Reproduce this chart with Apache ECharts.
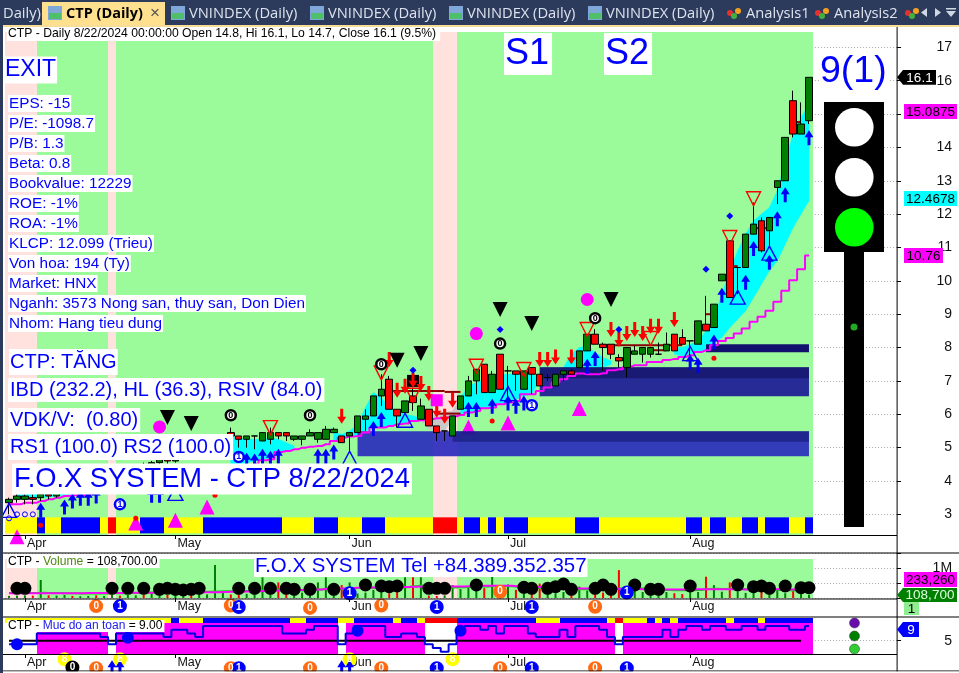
<!DOCTYPE html>
<html><head><meta charset="utf-8"><style>html,body{margin:0;padding:0;background:#fff}#c{width:959px;height:673px}</style>
<script src="https://cdn.jsdelivr.net/npm/echarts@6/dist/echarts.min.js"></script></head><body><div id="c"></div>
<script>
var monthTickIndex=[2,21,43,63,86];
var monthNames=['Apr','May','Jun','Jul','Aug'];
var opens=[3.35,3.45,3.45,3.5,3.5,3.6,3.55,3.7,3.85,3.8,3.95,4.05,4,4.1,4.25,4.2,4.35,4.45,4.4,4.55,4.65,4.6,4.75,4.85,4.8,4.95,5.05,5.15,5.45,5.35,5.25,5.35,5.2,5.25,5.45,5.45,5.25,5.25,5.35,5.25,5.25,5.45,5.35,5.35,5.45,5.85,5.95,6.55,7.05,6.15,6.05,6.55,5.85,6.15,5.65,5.5,5.35,6.15,6.55,7,7.5,6.65,7.8,7.3,7.3,6.75,7.4,7.2,7.1,6.85,7.2,7.3,7.4,7.9,8.4,8.1,8.1,7.7,7.4,7.8,7.8,7.8,7.8,7.9,8.4,8.3,8.2,8.1,8.7,8.6,10,11.2,10.4,10.4,11.4,11.8,11.5,12.8,13,15.4,14.4,14.8];
var closes=[3.45,3.55,3.55,3.45,3.6,3.55,3.7,3.85,3.8,3.95,4.05,4,4.1,4.25,4.2,4.35,4.45,4.4,4.55,4.65,4.6,4.75,4.85,4.8,4.95,5.05,5.15,5.3,5.35,5.25,5.35,5.35,5.45,5.45,5.35,5.35,5.35,5.35,5.45,5.45,5.55,5.55,5.15,5.45,5.95,5.95,6.55,6.75,6.15,5.95,6.4,6.35,6.25,5.65,5.45,5.5,5.95,6.55,7,7.35,6.65,7.2,6.75,7.3,7.2,7.3,7.2,6.85,7.1,7.2,7.3,7.2,7.9,8.4,8.1,8,7.8,7.6,8,7.9,8,8,7.8,8.1,7.9,8.1,8.2,8.8,8.5,9.3,10.2,9.5,10.4,11.4,11.7,10.9,11.9,13,14.3,14.4,14.7,16.1];
var lows=[3,3.35,3.3,3.3,3.4,3.45,3.5,3.65,3.7,3.75,3.85,3.9,3.95,4,4.1,4.15,4.25,4.3,4.35,4.45,4.5,4.55,4.65,4.7,4.75,4.85,4.9,5.05,5.1,5,5,4.95,5.2,5.1,5.25,5.2,5.2,5.07,5.35,5.15,5.25,5.45,5.15,4.85,5.45,5.5,5.95,6.25,6.15,5.6,6.05,6.1,5.85,5.65,5.2,5.2,5.35,6.15,6.55,6.6,6.65,6.65,6.75,6.5,6.7,6.75,6.6,6.85,7,6.85,7,7.2,7.4,7.9,8.1,7.3,7.65,7.4,7.1,7.8,7.55,7.7,7.8,7.9,7.9,8.1,7.7,8.1,8.5,8.6,10,9.5,9.6,10.4,11.4,10.85,11,12.3,13,14.3,14.4,14.7];
var highs=[3.5,3.6,3.6,3.6,3.7,3.7,3.75,3.9,3.95,4,4.1,4.15,4.2,4.3,4.35,4.4,4.5,4.55,4.6,4.7,4.75,4.8,4.9,4.95,5,5.1,5.2,5.35,5.6,5.35,5.35,5.35,5.45,5.6,5.45,5.45,5.35,5.35,5.55,5.45,5.65,5.6,5.35,5.45,5.95,6.15,6.55,7.2,7.15,6.15,6.4,6.8,6.47,6.15,5.65,5.5,5.95,6.55,7.15,7.35,7.5,7.3,7.8,7.45,7.3,7.3,7.4,7.2,7.2,7.2,7.3,7.35,7.9,8.4,8.55,8.15,8.1,7.8,8,8.05,8,8,8.15,8.45,8.4,8.55,8.2,8.8,9.55,9.3,10.2,11.2,10.4,11.4,12.35,11.9,11.9,13,14.3,15.7,15.35,16.1];
var stepLine=[3.3,3.3,3.35,3.35,3.4,3.45,3.5,3.55,3.57,3.57,3.6,3.65,3.7,3.75,3.8,3.85,3.9,3.95,4,4.02,4.05,4.1,4.12,4.15,4.2,4.25,4.3,4.35,4.4,4.45,4.45,4.5,4.62,4.65,4.87,4.9,4.95,5,5.03,5.05,5.1,5.2,5.3,5.33,5.35,5.45,5.6,5.6,5.65,5.7,5.72,5.8,5.82,5.85,5.88,5.9,5.94,5.98,6.05,6.1,6.18,6.2,6.3,6.35,6.4,6.6,6.6,6.7,6.8,6.95,7.05,7.15,7.22,7.2,7.2,7.23,7.32,7.35,7.42,7.47,7.47,7.57,7.57,7.63,7.66,7.72,7.77,7.87,7.92,8.07,8.2,8.29,8.42,8.57,8.77,8.92,9.1,9.37,9.7,10.02,10.35,10.76];
var cloudUpper=[null,3.6,3.6,3.62,3.65,3.7,3.72,3.75,3.78,3.8,3.85,null,null,null,null,null,null,null,null,null,null,null,null,null,null,null,null,null,5.35,5.3,5.25,5.25,5.25,5.3,5.25,5.15,5.05,null,null,null,null,5.45,5.4,5.5,5.7,6.2,6.65,6.5,6.2,6.05,6,5.95,5.9,5.95,6,6.05,6.1,6.5,6.85,6.95,7.05,7.15,7.2,7.2,7.22,7.22,7.2,7.1,null,null,7.4,7.8,8,8.05,7.85,7.7,7.6,null,null,null,null,null,null,null,8,8,8.1,8.2,8.5,8.9,9.6,10.3,10.9,11.4,11.8,12,12.2,12.7,13.6,14.4,14.9,15.3];
var cloudLower=[null,3.45,3.45,3.47,3.5,3.52,3.55,3.58,3.6,3.62,3.65,null,null,null,null,null,null,null,null,null,null,null,null,null,null,null,null,null,4.5,4.5,4.55,4.6,4.65,4.7,4.85,4.9,4.98,null,null,null,null,5.2,5.3,5.33,5.37,5.5,5.6,5.6,5.65,5.7,5.72,5.78,5.82,5.55,5.5,5.5,5.9,6,6.05,6.12,6.18,6.22,6.3,6.36,6.45,6.55,6.6,7,null,null,7.25,7.25,7.22,7.25,7.3,7.4,7.5,null,null,null,null,null,null,null,7.8,7.75,7.8,7.87,7.92,8.15,8.3,8.6,8.85,9.1,9.5,9.9,10.3,10.6,11.1,11.6,12,12.41];
var greyCloudIndex=[52,53,54,55,56];
var regimeRuns=[['p',4],['g',9],['p',1],['g',40],['p',3],['g',45]];
var priceStripRuns=[['y',4],['b',1],['y',2],['b',5],['y',1],['r',1],['y',3],['b',3],['y',5],['b',10],['y',4],['b',3],['y',3],['b',3],['y',6],['r',3],['y',1],['b',2],['y',1],['b',1],['y',1],['b',3],['y',6],['b',3],['y',11],['b',2],['y',1],['b',2],['y',2],['b',2],['y',1],['b',3],['y',2],['b',1]];
var safetyStripRuns=[['y',21],['b',1],['y',3],['b',11],['y',2],['b',4],['y',2],['b',5],['y',1],['b',2],['y',1],['r',4],['b',10],['y',3],['b',6],['y',1],['r',1],['y',3],['b',1],['y',1],['b',1],['y',1],['b',6],['y',1],['b',3],['y',1],['b',6]];
var safetyFillRuns=[['w',4],['m',9],['w',1],['m',28],['w',1],['m',10],['w',4],['m',20],['w',1],['m',24]];
var levelBandStart=[43.9,55.8,66.8,66.8,87.8];
var levelBandEnd=[101,101,101,101,101];
var levelBandTop=[5.49,5.49,7.41,7.41,8.1];
var levelBandBottom=[4.74,5.18,6.54,7.08,7.86];
var levelBandColors=['rgba(40,40,190,0.9)','rgba(10,10,90,0.45)','rgba(32,32,150,0.95)','rgba(10,10,80,0.5)','rgba(18,18,110,1)'];
var stubStart=[47.1,54.7,54.3,74.5,81.3,87.8,91.4,94.4,99.4];
var stubEnd=[54.7,57,56.8,84.7,83,88.5,91.8,95.6,99.8];
var stubLevel=[6.7,6.67,6.02,8.07,7.92,9,10.44,11.58,14.76];
var redArrows=[[42,5.94],[48,7.64],[49,6.72],[50,6.84],[51,7.02],[52,6.92],[53,6.62],[54,6.12],[55,5.94],[56,6.42],[67,7.64],[68,7.64],[69,7.72],[71,7.72],[76,8.54],[77,8.24],[78,8.42],[79,8.54],[80,8.42],[81,8.64],[82,8.64],[84,8.84]];
var blueArrows=[[4,3.12],[7,3.22],[8,3.4],[9,3.48],[10,3.48],[11,3.55],[18,3.57],[19,3.57],[30,4.62],[31,4.6],[32,4.74],[33,4.68],[34,4.74],[39,4.74],[40,4.74],[41,4.87],[46,5.57],[47,5.84],[58,6.14],[59,6.14],[61,6.24],[63,6.34],[64,6.24],[65,6.34],[73,7.44],[74,7.67],[86,7.57],[87,7.47],[89,8.17],[90,9.57],[93,9.96],[94,10.97],[96,10.56],[97,11.86],[98,12.58],[101,14.29]];
var hollowRedDown=[[33,5.6],[47,7.24],[51,6.57],[59,7.44],[65,7.34],[73,8.54],[81,8.27],[91,11.3],[94,12.46]];
var hollowBlueUp=[[0,3.12],[21,3.63],[43,4.68],[50,5.82],[63,6.62],[86,7.82],[92,9.51],[96,10.83]];
var blackDown=[[20,5.9],[23,5.72],[49,7.62],[52,7.82],[62,9.14],[66,8.72],[76,9.44]];
var blackSquares=[[51,7]];
var magentaCircles=[[19,5.62],[59,8.42],[73,9.44]];
var magentaSquares=[[54,6.42]];
var magentaTriangles=[[1,2.33],[16,2.74],[21,2.82],[25,3.22],[58,5.62],[63,5.74],[72,6.17]];
var blueDots=[[51,7.32],[62,8.54],[77,8.54],[88,10.35],[91,11.94]];
var redDots=[[4,2.67],[16,2.88],[26,3.57],[61,5.8],[89,7.68]];
var smallRings=[[0,2.88],[1,3.0],[2,3.0],[3,3.0]];
var zeroBadges=[[28,5.97],[38,5.97],[47,7.5],[62,8.12],[74,8.88]];
var oneBadges=[[14,3.3],[29,4.72],[66,6.27]];
var volumes=[70,80,90,80,600,90,80,100,70,60,70,90,70,120,80,100,90,120,160,130,100,140,90,110,150,120,1100,210,120,130,140,200,690,300,520,450,300,180,240,520,690,200,430,520,150,180,270,240,160,290,690,690,690,80,70,90,430,300,380,500,330,710,300,450,270,400,210,480,300,160,200,240,380,250,280,180,330,930,300,600,200,180,150,200,160,130,340,200,710,430,210,520,220,170,190,200,260,240,160,230,250,109];
var volumeAvg=[160,160,160,160,160,160,160,158,160,162,165,165,168,170,170,172,172,175,175,175,178,180,185,188,190,190,195,200,205,210,215,220,230,240,250,260,265,270,275,285,300,310,320,330,340,350,350,355,360,365,370,375,380,385,380,375,380,385,390,400,405,410,410,405,395,385,375,365,350,340,330,320,320,315,310,300,300,305,305,300,295,290,285,280,280,285,285,290,290,295,295,290,290,285,285,285,290,290,285,280,275,270];
var volumeFast=[170,170,175,170,175,170,165,160,155,150,150,150,150,155,160,165,170,175,180,180,185,190,190,195,200,210,220,225,225,230,230,240,260,270,280,270,260,250,260,280,300,300,310,320,330,330,340,350,340,330,360,390,420,400,370,340,350,360,370,380,385,400,400,390,380,360,350,340,330,320,300,290,295,290,285,280,290,320,320,330,320,310,270,265,262,260,262,270,300,310,300,310,300,290,280,270,270,265,260,250,240,230];
var volumeDots=[[1,322],[2,322],[13,322],[15,322],[17,322],[19,289],[20,322],[21,289],[22,267],[23,289],[24,322],[29,322],[31,322],[33,322],[35,322],[36,289],[38,289],[41,289],[45,433],[47,400],[48,378],[49,400],[53,322],[54,322],[55,322],[59,433],[65,356],[66,322],[68,322],[69,378],[70,467],[71,289],[74,322],[75,433],[76,289],[79,433],[81,289],[82,289],[86,400],[92,433],[94,378],[95,400],[96,322],[98,400],[100,344],[101,344]];
var volumeOrange=[[11,-270],[28,-250],[38,-330],[47,-250],[62,210],[74,-290]];
var volumeBlue=[[14,-270],[29,-300],[43,160],[54,-300],[66,-300],[78,180]];
var safetyLevel=[4,4,4,4,7,7,7,7,7,7,7,7,6,4,7,7,7,7,7,7,6,8,8,7,6,9,9,9,9,9,9,9,9,9,9,7,7,7,8,9,9,9,4,7,9,9,9,9,6,6,7,7,6,4,3,2,4,7,9,9,8,9,7,9,9,9,7,6,6,6,8,6,9,9,9,8,6,4,6,6,6,6,6,8,6,8,9,9,8,9,9,8,8,9,9,8,9,9,9,8,8,9];
var safetyBase=[5,5,5,5,5,5,5,5,5,5,5,5,5,5,5,5,5,5,5,5,5,5,5,5,5,5,5,5,5,5,5,5,5,5,5,5,5,5,5,5,5,5,5,5,5,5,5,5,5,5,5,5,5,5,5,5,5,5,5,5,5,5,5,5,5,5,5,5,5,5,5,5,5,5,5,5,5,5,5,5,5,5,5,5,5,5,5,5,5,5,5,5,5,5,5,5,5,5,5,5,5];
var safetyDots=[[1,4],[15,5.8],[44,7.7],[57,7.7]];
var safetyYellow=[[7,-0.08],[14,-0.08],[43,-0.08],[56,-0.08]];
var safetyOrange=[[11,-2.54],[28,-2.54],[38,-2.54],[47,-2.54],[62,-2.54],[74,-2.54]];
var safetyBlue=[[29,-2.54],[54,-2.54],[66,-2.54],[78,-2.54]];
var safetyBlack=[[8,-2.3]];
var safetyBlueArrows=[[13,-2.4],[14,-2.4],[42,-2.4],[43,-2.4]];
var priceTicks=[3,4,5,6,7,8,9,10,11,12,13,14,15,16,17];
var infoLines=['EPS: -15','P/E: -1098.7','P/B: 1.3','Beta: 0.8','Bookvalue: 12229','ROE: -1%','ROA: -1%','KLCP: 12.099 (Trieu)','Von hoa: 194 (Ty)','Market: HNX','Nganh: 3573 Nong san, thuy san, Don Dien','Nhom: Hang tieu dung'];
var tabTitles=[['VNINDEX (Daily)',189,171],['VNINDEX (Daily)',328,310],['VNINDEX (Daily)',467,449],['VNINDEX (Daily)',606,588]];

function expand(runs){var o=[];runs.forEach(function(r){for(var k=0;k<r[1];k++)o.push(r[0]);});return o;}
var regimeStates=expand(regimeRuns),priceStripStates=expand(priceStripRuns),safetyStripStates=expand(safetyStripRuns),safetyFillStates=expand(safetyFillRuns);
var F='"Liberation Sans"';
var N=113, S=7.92, L=5.1, W=N*S;
var cats=[];for(var i=0;i<N;i++)cats.push(String(i));
var candles=opens.map(function(o,i){return [o,closes[i],lows[i],highs[i]];});
var regimeColor={p:'#ffe1de',g:'#9bfb9b'};
var stripColor={y:'#ffff00',b:'#0000ff',r:'#ff0000'};
function rectSeries(rows,gi,z,colorOf){
  return {type:'custom',xAxisIndex:gi,yAxisIndex:gi,z:z,silent:true,clip:false,data:rows,
    renderItem:function(p,api){
      var a=api.coord([api.value(0),api.value(1)]),b=api.coord([api.value(0),api.value(2)]),w=api.size([1,0])[0];
      var x0=Math.round(a[0]-w/2+1e-4),x1=Math.round(a[0]+w/2+1e-4);
      return {type:'rect',shape:{x:x0,y:a[1],width:x1-x0,height:b[1]-a[1]},style:{fill:colorOf(p.dataIndex)}};
    }};
}
function cloudSeries(z){
  var rows=[];
  cloudUpper.forEach(function(u,i){ if(u!=null&&cloudUpper[i+1]!=null) rows.push([i,u,cloudLower[i],cloudUpper[i+1],cloudLower[i+1]]); });
  return {type:'custom',xAxisIndex:0,yAxisIndex:0,z:z,silent:true,clip:false,data:rows,
    renderItem:function(p,api){
      var i=api.value(0);
      var a=api.coord([i,api.value(1)]),b=api.coord([i+1,api.value(3)]),c=api.coord([i+1,api.value(4)]),d=api.coord([i,api.value(2)]);
      var col=greyCloudIndex.indexOf(i)>=0?'#c8c8c8':'#00ffff';
      return {type:'polygon',shape:{points:[a,b,c,d]},style:{fill:col,stroke:col,lineWidth:0.5}};
    }};
}
function spanSeries(starts,ends,tops,bottoms,colors,z){
  var rows=starts.map(function(s,i){return [s,ends[i],tops[i],bottoms[i]];});
  return {type:'custom',xAxisIndex:0,yAxisIndex:0,z:z,silent:true,clip:false,data:rows,
    renderItem:function(p,api){
      var a=api.coord([api.value(0),api.value(2)]),b=api.coord([api.value(1),api.value(3)]);
      return {type:'rect',shape:{x:a[0],y:a[1],width:b[0]-a[0],height:b[1]-a[1]},style:{fill:colors[p.dataIndex]}};
    }};
}
function marks(data,sym,size,color,extra,gi){
  var o={type:'scatter',xAxisIndex:gi||0,yAxisIndex:gi||0,z:8,clip:false,silent:true,data:data,symbol:sym,symbolSize:size,
    itemStyle:{color:color,opacity:1},animation:false};
  if(extra)for(var k in extra)o[k]=extra[k];
  return o;
}
function badge(data,fill,ring,txt,txtColor,gi,z,bw,sz){
  return marks(data,'circle',sz||12,fill,{z:z||9,itemStyle:{color:fill,borderColor:ring,borderWidth:bw||2,opacity:1},
    label:{show:true,formatter:txt,position:'inside',color:txtColor,fontSize:bw?9:10,fontWeight:'bold',fontFamily:F}},gi);
}
var ARROW='path://M4.5 0L9 7L6 7L6 15L3 15L3 7L0 7Z';
var series=[
 rectSeries(regimeStates.map(function(s,i){return [i,17.459,2.381];}),0,1,function(i){return regimeColor[regimeStates[i]];}),
 rectSeries(priceStripStates.map(function(s,i){return [i,2.91,2.43];}),0,2,function(i){return stripColor[priceStripStates[i]];}),
 cloudSeries(3),
 marks(magentaTriangles,'triangle',[15,15],'#ff00ff',{z:4}),
 spanSeries(levelBandStart,levelBandEnd,levelBandTop,levelBandBottom,levelBandColors,5),
 {type:'line',xAxisIndex:0,yAxisIndex:0,z:6,data:stepLine,step:'middle',symbol:'none',lineStyle:{color:'#ff00ff',width:2},silent:true,animation:false},
 {type:'candlestick',xAxisIndex:0,yAxisIndex:0,z:7,data:candles,barWidth:7,silent:true,itemStyle:{color:'#008000',color0:'#ff0000',borderColor:'#000',borderColor0:'#000',borderColorDoji:'#000',borderWidth:1},animation:false},
 spanSeries(stubStart,stubEnd,stubLevel.map(function(v){return v+0.03;}),stubLevel.map(function(v){return v-0.03;}),stubLevel.map(function(){return '#8b0000';}),7),
 marks(blackSquares,'rect',[12,12],'#000',{z:7}),
 marks(redArrows,ARROW,[9,15],'#ff0000',{symbolRotate:180}),
 marks(blueArrows,ARROW,[9,15],'#0000ff'),
 marks(hollowRedDown,'triangle',[14,14],'rgba(0,0,0,0)',{symbolRotate:180,itemStyle:{color:'rgba(0,0,0,0)',borderColor:'#ff0000',borderWidth:1.4,opacity:1}}),
 marks(hollowBlueUp,'triangle',[15,14],'rgba(0,0,0,0)',{itemStyle:{color:'rgba(0,0,0,0)',borderColor:'#0000ff',borderWidth:1.4,opacity:1}}),
 marks(blackDown,'triangle',[15,15],'#000',{symbolRotate:180}),
 marks(magentaCircles,'circle',13,'#ff00ff'),
 marks(magentaSquares,'rect',[12,12],'#ff00ff'),
 marks(blueDots,'diamond',[7,7],'#0000ff'),
 marks(redDots,'circle',5,'#ff0000'),
 marks(smallRings,'circle',5,'#ffff00',{itemStyle:{color:'rgba(255,255,255,0.2)',borderColor:'#0000ff',borderWidth:1,opacity:1}}),
 badge(zeroBadges,'#fff','#000','0','#000',0,9,2.5,10),
 badge(oneBadges,'#fff','#0000ff','1','#0000ff',0,9,2.5,10),
 // volume pane
 rectSeries(regimeStates.map(function(s,i){return [i,1300000,0];}),1,1,function(i){return regimeColor[regimeStates[i]];}),
 {type:'bar',xAxisIndex:1,yAxisIndex:1,z:3,barWidth:2,silent:true,animation:false,
   data:volumes.map(function(v,i){return {value:v*1000,itemStyle:{color:closes[i]>=opens[i]?'#008000':'#ff0000'}};})},
 {type:'line',xAxisIndex:1,yAxisIndex:1,z:4,data:volumeFast.map(function(v){return v*1000;}),symbol:'none',step:'middle',lineStyle:{color:'#00e000',width:2},silent:true,animation:false},
 {type:'line',xAxisIndex:1,yAxisIndex:1,z:5,data:volumeAvg.map(function(v){return v*1000;}),symbol:'none',step:'middle',lineStyle:{color:'#ff00ff',width:2},silent:true,animation:false},
 marks(volumeDots.map(function(d){return [d[0],d[1]*1000];}),'circle',13,'#000',{z:6},1),
 badge(volumeOrange.map(function(d){return [d[0],d[1]*1000];}),'#ff6a13','#ff6a13','0','#fff',1,9),
 badge(volumeBlue.map(function(d){return [d[0],d[1]*1000];}),'#0000ff','#0000ff','1','#fff',1,9),
 // safety pane
 rectSeries(safetyFillStates.map(function(s,i){return [i,9.83,1.37];}),2,1,function(i){return safetyFillStates[i]==='m'?'#ff00ff':'#ffffff';}),
 rectSeries(safetyStripStates.map(function(s,i){return [i,11.2,9.83];}),2,2,function(i){return stripColor[safetyStripStates[i]];}),
 {type:'line',xAxisIndex:2,yAxisIndex:2,z:4,data:safetyBase,symbol:'none',lineStyle:{color:'#000',width:2},silent:true,animation:false},
 {type:'line',xAxisIndex:2,yAxisIndex:2,z:5,data:safetyLevel,step:'middle',symbol:'none',lineStyle:{color:'#0000e0',width:2},silent:true,animation:false},
 marks(safetyDots,'circle',12,'#0000ff',{z:6},2),
 badge(safetyYellow,'#ffff00','#ffff00','8','#fff',2,9),
 badge(safetyOrange,'#ff6a13','#ff6a13','0','#fff',2,9),
 badge(safetyBlue,'#0000ff','#0000ff','1','#fff',2,9),
 badge(safetyBlack,'#000','#000','0','#fff',2,9),
 marks(safetyBlueArrows,ARROW,[9,15],'#0000ff',{z:9},2)
];
function xA(gi){
  return {type:'category',gridIndex:gi,data:cats,boundaryGap:true,
    axisLine:{show:false},
    axisTick:{show:true,alignWithLabel:true,length:4,interval:function(i){return monthTickIndex.indexOf(i)>=0;},lineStyle:{color:'#000'}},
    axisLabel:{show:true,interval:function(i){return monthTickIndex.indexOf(i)>=0;},align:'left',padding:[0,0,0,2],margin:2,
      color:'#111',fontSize:12.5,fontFamily:F,hideOverlap:false,
      formatter:function(v){var k=monthTickIndex.indexOf(+v);return k>=0?monthNames[k]:'';}},
    splitLine:{show:false}};
}
function yA(gi,min,max,extra){
  var o={type:'value',gridIndex:gi,position:'right',offset:-3,min:min,max:max,scale:false,
    axisLine:{show:false},axisTick:{show:true,length:4,lineStyle:{color:'#000'}},
    axisLabel:{show:true,margin:55,align:'right',color:'#111',fontSize:14,fontFamily:F,showMinLabel:true,showMaxLabel:true},
    splitLine:{show:true,lineStyle:{color:'#aaa',type:[1,2],width:1}}};
  for(var k in extra){if(k==='axisLabel'||k==='axisTick'){for(var q in extra[k])o[k][q]=extra[k][q];}else o[k]=extra[k];}
  return o;
}
var G=[];
function add(o){o.silent=true;o.z=o.z||100;G.push(o);return o;}
function R(x,y,w,h,fill,z){add({type:'rect',shape:{x:x,y:y,width:w,height:h},style:{fill:fill},z:z});}
function T(x,yc,text,size,opt){
  opt=opt||{};
  add({type:'text',x:x,y:yc,z:opt.z||110,style:{text:text,font:(opt.bold?'bold ':'')+size+'px '+(opt.font||F),fill:opt.color||'#0000ff',
    verticalAlign:'middle',align:opt.align||'left',backgroundColor:opt.bg===undefined?'#fff':opt.bg,padding:opt.pad||[2,2,2,2],rich:opt.rich}});
}
// tabs
R(0,0,959,25,'#2c3a5b');R(0,0,3,673,'#2c3a5b');
R(3,25,956,2,'#f7dc9a');R(42,2,123,23,'#ffe08f');
function chartIcon(x){R(x,6,14,14,'#7fa8d8',104);R(x+1,13,12,6,'#4fbf6a',105);}
var TF='"Open Sans"';
T(3,14,'Daily)',14.7,{font:TF,color:'#dde3ee',bg:null,pad:[0,0,0,0]});
chartIcon(48);
T(66,14,'CTP (Daily)',14.5,{font:TF,bold:true,color:'#000',bg:null,pad:[0,0,0,0]});
T(150,13,'\u00d7',17,{color:'#555',bg:null,pad:[0,0,0,0]});
tabTitles.forEach(function(t){chartIcon(t[2]);T(t[1],14,t[0],14.7,{font:TF,color:'#dde3ee',bg:null,pad:[0,0,0,0]});});
function gem(x){add({type:'circle',shape:{cx:x+3,cy:13,r:3},style:{fill:'#e53030'},z:104});add({type:'circle',shape:{cx:x+11,cy:11,r:3},style:{fill:'#f5a020'},z:104});add({type:'circle',shape:{cx:x+7,cy:16,r:3},style:{fill:'#40b040'},z:105});}
gem(727);T(746,14,'Analysis1',14.7,{font:TF,color:'#dde3ee',bg:null,pad:[0,0,0,0]});
gem(815);T(834,14,'Analysis2',14.7,{font:TF,color:'#dde3ee',bg:null,pad:[0,0,0,0]});
gem(905);
add({type:'polygon',shape:{points:[[927,8],[927,17],[921,12.5]]},style:{fill:'#cfd6e4'},z:104});
add({type:'polygon',shape:{points:[[935,8],[935,17],[941,12.5]]},style:{fill:'#cfd6e4'},z:104});
add({type:'polygon',shape:{points:[[946,11],[956,11],[951,17]]},style:{fill:'#cfd6e4'},z:104});
R(946,8,10,1.5,'#cfd6e4',104);
// pane separators
R(3,535,894,1,'#000',60);R(3,552.5,956,1,'#000',60);R(3,598.5,894,1,'#000',60);R(3,616.5,956,1,'#000',60);R(3,654,894,1,'#000',60);R(3,670.5,956,1,'#000',60);
R(896.6,26,1,647,'#000',60);
// text boxes
T(7,34,'CTP - Daily 8/22/2024 00:00:00 Open 14.8, Hi 16.1, Lo 14.7, Close 16.1 (9.5%)',12.2,{color:'#000',pad:[1,4,1,1]});
T(5,70,'EXIT',23,{pad:[2,1,2,0]});
infoLines.forEach(function(s,k){T(8,103.5+20*k,s,15.3,{pad:[1,1,1,1]});});
T(9,362,'CTP: T\u0102NG',20,{pad:[3,1,3,1]});
T(8,390,'IBD (232.2), HL (36.3), RSIV (84.0)',20,{});
T(8,420,'VDK/V:  (0.80)',20,{});
T(8,447,'RS1 (100.0) RS2 (100.0)',20,{pad:[3,2,3,2]});
T(12,479,'F.O.X SYSTEM - CTP 8/22/2024',27.3,{pad:[2,2,2,2]});
T(504,54,'S1',36,{pad:[3,3,3,1]});
T(604,54,'S2',36,{pad:[3,3,3,1]});
T(820,72,'9(1)',37.5,{pad:[0,2,0,0],bg:'#fff'});
T(254,566,'F.O.X SYSTEM Tel +84.389.352.357',20.4,{pad:[1,1,1,1]});
T(7,562,'{k|CTP - }{g|Volume}{k| = 108,700.00}',12.1,{pad:[0,2,0,1],rich:{k:{fill:'#000',font:'12.1px '+F},g:{fill:'#4c8c10',font:'12.1px '+F}}});
T(7,626,'{k|CTP - }{g|Muc do an toan}{k| = 9.00}',12,{pad:[0,2,0,1],rich:{k:{fill:'#000',font:'12px '+F},g:{fill:'#2020ee',font:'12px '+F}}});
// traffic light
R(824,102,60,150,'#000',70);R(844,252,20,275,'#000',70);
[[127.3,'#fff'],[177.3,'#fff'],[227.3,'#00ff00']].forEach(function(d){add({type:'circle',shape:{cx:854.3,cy:d[0],r:19.3},style:{fill:d[1]},z:71});});
add({type:'circle',shape:{cx:854,cy:327,r:3.5},style:{fill:'#22aa22'},z:71});
[[623,'#6a0dad'],[636,'#008000'],[649,'#32cd32']].forEach(function(d){add({type:'circle',shape:{cx:854.5,cy:d[0],r:5},style:{fill:d[1],stroke:'#333',lineWidth:0.5},z:71});});
// right value flags
function flag(x0,y0,x1,y1,fill,text,color,arrow){
  if(arrow)add({type:'polygon',shape:{points:[[x0,(y0+y1)/2],[x0+6,y0],[x1,y0],[x1,y1],[x0+6,y1]]},style:{fill:fill},z:80});
  else R(x0,y0,x1-x0,y1-y0,fill,80);
  add({type:'text',x:(arrow?x0+6:x0)+(x1-(arrow?x0+6:x0))/2,y:(y0+y1)/2+0.5,z:81,style:{text:text,font:'13.5px '+F,fill:color,align:'center',verticalAlign:'middle'}});
}
flag(897,70,936,84.7,'#000','16.1','#fff',true);
flag(904,104,957,119,'#ff00ff','15.0875','#000');
flag(904,191,957,206,'#00ffff','12.4678','#000');
flag(904,248,943,263,'#ff00ff','10.76','#000');
flag(904,572,957,587,'#ff00ff','233,260','#000');
flag(897,588,957,602,'#008000','108,700','#dfffdf',true);
flag(904,602,919,615,'#90ee90','1','#000');
flag(897,622,919,637,'#0000ff','9','#fff',true);
R(0,671.5,959,2,'#fff',90);

var chart=echarts.init(document.getElementById('c'),null,{renderer:'canvas',width:959,height:673});
chart.setOption({animation:false,backgroundColor:'#fff',
 grid:[{left:L,width:W,top:32,height:503},{left:L,width:W,top:553,height:45},{left:L,width:W,top:617,height:37}],
 xAxis:[xA(0),xA(1),xA(2)],
 yAxis:[
  yA(0,2.381,17.459,{axisLabel:{customValues:priceTicks},axisTick:{customValues:priceTicks}}),
  yA(1,0,1500000,{interval:500000,axisLabel:{formatter:function(v){return v===1000000?'1M':'';}}}),
  yA(2,1.37,11.475,{axisLabel:{customValues:[5]},axisTick:{customValues:[5]}})
 ],
 series:series,graphic:{elements:G}});
</script></body></html>
